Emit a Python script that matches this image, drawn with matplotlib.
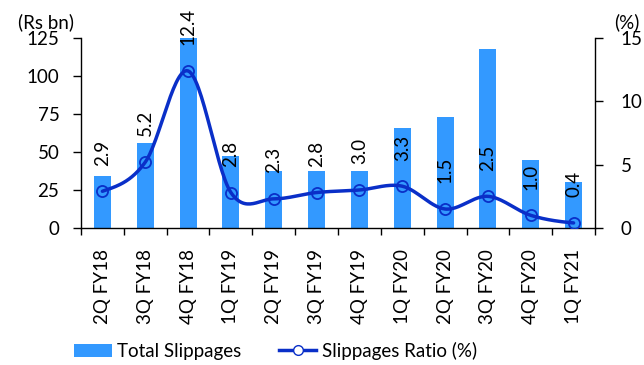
import numpy as np
import matplotlib
matplotlib.use("Agg")
import matplotlib.pyplot as plt
from matplotlib.lines import Line2D
from matplotlib.patches import Patch

categories = ["2Q FY18", "3Q FY18", "4Q FY18", "1Q FY19", "2Q FY19", "3Q FY19",
              "4Q FY19", "1Q FY20", "2Q FY20", "3Q FY20", "4Q FY20", "1Q FY21"]
total_slippages = [34, 56, 125, 47.5, 37.5, 37.5, 37.5, 66, 73, 118, 45, 30]
slippage_ratio = [2.9, 5.2, 12.4, 2.8, 2.3, 2.8, 3.0, 3.3, 1.5, 2.5, 1.0, 0.4]

bar_color = "#3399FF"
line_color = "#0A2FC8"
font = ["Lato", "DejaVu Sans"]
plt.rcParams["font.family"] = font
fs = 13.5


def smooth_curve(xs, ys, n=30):
    # Catmull-Rom style smoothing (like Excel's smoothed line) for drawing only
    xs = np.asarray(xs, float)
    ys = np.asarray(ys, float)
    px = np.concatenate([[2 * xs[0] - xs[1]], xs, [2 * xs[-1] - xs[-2]]])
    py = np.concatenate([[ys[0]], ys, [ys[-1]]])
    outx, outy = [], []
    for i in range(1, len(px) - 2):
        p0, p1, p2, p3 = (np.array([px[j], py[j]]) for j in (i - 1, i, i + 1, i + 2))
        c1 = p1 + (p2 - p0) / 6.0
        c2 = p2 - (p3 - p1) / 6.0
        t = np.linspace(0, 1, n)[:, None]
        b = ((1 - t) ** 3) * p1 + 3 * ((1 - t) ** 2) * t * c1 + 3 * (1 - t) * t ** 2 * c2 + t ** 3 * p2
        outx.extend(b[:, 0])
        outy.extend(b[:, 1])
    return np.array(outx), np.array(outy)


fig = plt.figure(figsize=(6.44, 3.65), dpi=100)
ax = fig.add_axes([81 / 644, 1 - 228 / 365, (595 - 81) / 644, (228 - 38) / 365])
x = np.arange(len(categories))
ax.bar(x, total_slippages, width=0.4, color=bar_color, zorder=1)
ax.set_xlim(-0.5, len(categories) - 0.5)
ax.set_ylim(0, 125)
ax.set_yticks([0, 25, 50, 75, 100, 125])
ax.tick_params(axis="y", labelsize=fs, length=5.5, width=1, direction="out", pad=10)
ax.set_xticks(x)
ax.set_xticklabels(categories, rotation=90, fontsize=fs)
ax.tick_params(axis="x", length=0, pad=15)
ax.set_xticks(np.arange(-0.5, len(categories), 1), minor=True)
ax.tick_params(axis="x", which="minor", length=5, width=1, direction="out")
ax.spines["top"].set_visible(False)
ax.spines["right"].set_visible(False)
for s in ["left", "bottom"]:
    ax.spines[s].set_linewidth(1)

ax2 = ax.twinx()
ax2.set_ylim(0, 15)
ax2.set_yticks([0, 5, 10, 15])
ax2.tick_params(axis="y", labelsize=fs, length=5.5, width=1, direction="out", pad=13)
ax2.spines["top"].set_visible(False)
ax2.spines["left"].set_visible(False)
ax2.spines["bottom"].set_visible(False)
ax2.spines["right"].set_linewidth(1)

sx, sy = smooth_curve(x, slippage_ratio)
ax2.plot(sx, sy, color=line_color, lw=2.5, zorder=3, solid_capstyle="round")
ax2.plot(x, slippage_ratio, linestyle="none", marker="o", markersize=8,
         markerfacecolor="none", markeredgecolor=line_color, markeredgewidth=1.3, zorder=4)
for xi, v in zip(x, slippage_ratio):
    ax2.annotate(f"{v:.1f}", (xi, v), xytext=(0, 18.5), textcoords="offset points",
                 rotation=90, ha="center", va="bottom", fontsize=fs, clip_on=False,
                 annotation_clip=False)

fig.text(18 / 644, 1 - 22 / 365, "(Rs bn)", fontsize=fs, ha="left", va="center")
fig.text(614 / 644, 1 - 22 / 365, "(%)", fontsize=fs, ha="left", va="center")

handles = [Patch(facecolor=bar_color, edgecolor="none"),
           Line2D([0], [0], color=line_color, lw=2.5, marker="o", markersize=7,
                  markerfacecolor="white", markeredgecolor=line_color)]
fig.legend(handles, ["Total Slippages", "Slippages Ratio (%)"], loc="center left",
           bbox_to_anchor=(74 / 644, 1 - 351 / 365), ncol=2, frameon=False, fontsize=fs,
           borderpad=0, borderaxespad=0,
           handlelength=2.0, handletextpad=0.3, columnspacing=2.0)

fig.savefig("out.png", dpi=100)
